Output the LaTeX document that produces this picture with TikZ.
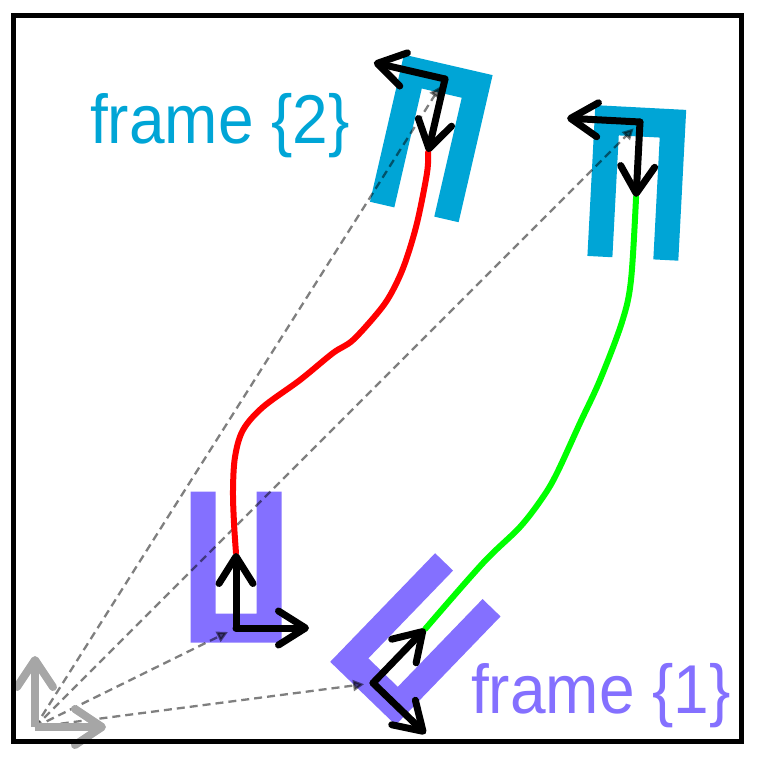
\documentclass[tikz,border=0pt]{standalone}
\usepackage{fontspec}
\setmainfont{Liberation Sans}
\usetikzlibrary{arrows.meta}
\definecolor{gcyan}{RGB}{0,165,214}
\definecolor{gpurple}{RGB}{132,112,255}
\definecolor{axgray}{RGB}{166,166,166}
\newcommand\gripperU[5]{%
  \begin{scope}[shift={(#2,#3)},rotate=#4]
    \fill[#5] (-45.5,14.5) -- (45.5,14.5) -- (45.5,-136.5) -- (20.5,-136.5) -- (20.5,-14.5)
      -- (-20.5,-14.5) -- (-20.5,-136.5) -- (-45.5,-136.5) -- cycle;
    \coordinate (#1) at (0,0);
    \coordinate (#1x) at (73,0);
    \coordinate (#1y) at (0,-75);
  \end{scope}}
\begin{document}
\begin{tikzpicture}[x=1pt,y=-1pt,
  blackaxis/.style={line width=7pt,line cap=round,-{Straight Barb[round,length=27pt,width=34pt]}},
  grayaxis/.style={axgray,line width=8pt,-{Straight Barb[round,length=27pt,width=36pt]}},
  dashline/.style={black,opacity=0.5,line width=2.3pt,dash pattern=on 8pt off 5pt,shorten >=9pt,
    -{Triangle[length=11pt,width=11pt]}},
  pathline/.style={line width=6pt,line cap=round},
  labeltext/.style={anchor=base west,inner sep=0,font=\fontsize{64}{70}\selectfont}]
\useasboundingbox (0,0) rectangle (758,758);
% grippers
\gripperU{BL}{236}{628}{0}{gpurple}
\gripperU{BR}{373}{683}{-44}{gpurple}
\gripperU{TL}{445}{79}{167}{gcyan}
\gripperU{TR}{640}{122}{177}{gcyan}
% world origin
\coordinate (O) at (35,727);
\coordinate (Ox) at (106,727);
\coordinate (Oy) at (35,656);
% dashed vectors
\draw[dashline] (O) -- (TL);
\draw[dashline] (O) -- (TR);
\draw[dashline] (O) -- (BL);
\draw[dashline] (O) -- (BR);
% trajectories
\draw[red,pathline] plot[smooth,tension=0.55] coordinates {(BLy) (234,523) (233,490) (235,457) (243,430) (263,407) (300,380) (333,353) (353,340) (380,310) (393,290) (405,263) (417,223) (427,173) (TLy)};
\draw[green,pathline] plot[smooth,tension=0.55] coordinates {(BRy) (483,563) (520,527) (543,497) (557,473) (580,423) (600,380) (622,322) (631,280) (TRy)};
% gripper axes
\foreach \g in {BL,BR,TL,TR}{
  \draw[blackaxis] (\g) -- (\g x);
  \draw[blackaxis] (\g) -- (\g y);
}
% world axes
\draw[grayaxis] (O) -- (Ox);
\draw[grayaxis] (O) -- (Oy);
% labels
\node[labeltext,text=gcyan] (lab2) at (90,143) {\scalebox{1}[1.08]{frame \{2\}}};
\node[labeltext,text=gpurple] (lab1) at (471,713) {\scalebox{1}[1.08]{frame \{1\}}};
% border
\draw[line width=5pt] (13.5,15.5) rectangle (741,741.5);
\end{tikzpicture}
\end{document}
